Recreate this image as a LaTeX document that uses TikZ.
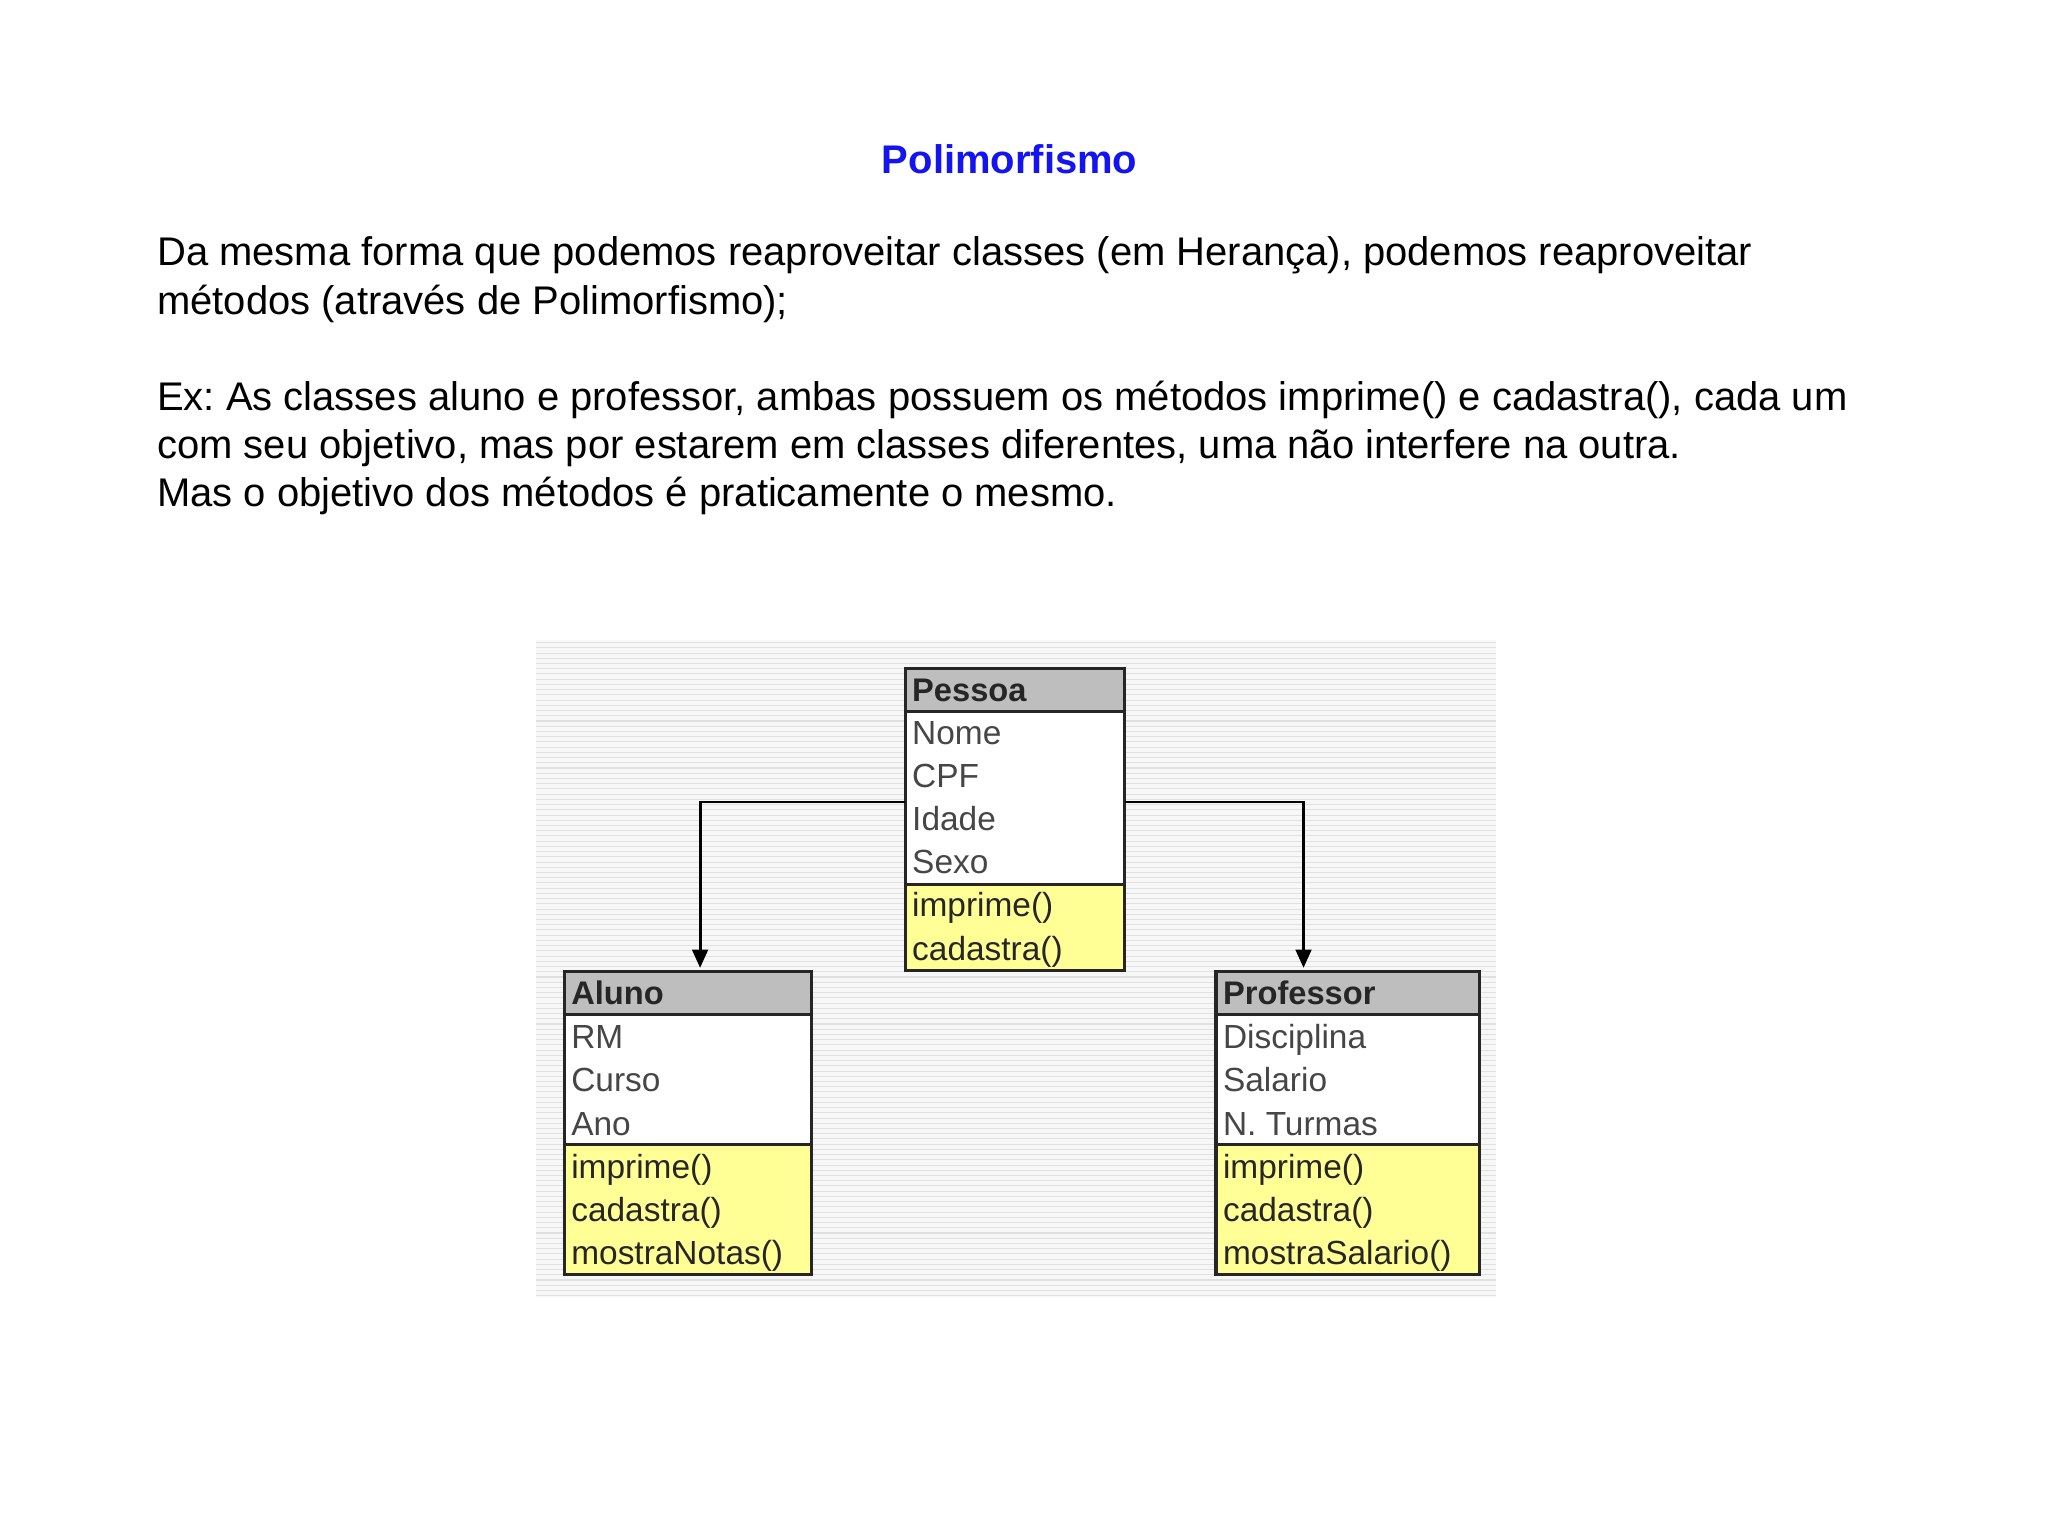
\documentclass[tikz,border=0pt]{standalone}
\usepackage{fontspec}
\setmainfont{Liberation Sans}
\frenchspacing
\usetikzlibrary{arrows.meta}
\definecolor{titleblue}{RGB}{20,20,240}
\definecolor{hdr}{RGB}{190,190,190}
\definecolor{meth}{RGB}{255,255,150}
\definecolor{attr}{RGB}{70,70,70}
\tikzset{
  body/.style={anchor=north west,inner sep=0pt,font=\fontsize{15.3}{18.5}\selectfont,align=left},
  row/.style={anchor=base west,inner sep=0pt,font=\fontsize{12.8}{14}\selectfont,text=attr},
  hrow/.style={anchor=base west,inner sep=0pt,font=\fontsize{12.5}{14}\selectfont\bfseries,text=black!85},
  frame/.style={draw=black!85,line width=1.2pt},
  conn/.style={line width=1.1pt,-{Triangle[length=7pt,width=6pt]}}
}
\begin{document}
\begin{tikzpicture}[x=0.5pt,y=-0.5pt]
\useasboundingbox (0,0) rectangle (1568,1176);
\fill[white] (0,0) rectangle (1568,1176);
\node[font=\fontsize{15.3}{18}\selectfont\bfseries,text=titleblue] (title) at (773,122) {Polimorfismo};
\node[body] (p1) at (120,181) {Da mesma forma que podemos reaproveitar classes (em Herança), podemos reaproveitar\\métodos (através de Polimorfismo);};
\node[body] (p2) at (120,291) {Ex: As classes aluno e professor, ambas possuem os métodos imprime() e cadastra(), cada um\\com seu objetivo, mas por estarem em classes diferentes, uma não interfere na outra.\\Mas o objetivo dos métodos é praticamente o mesmo.};
% striped background
\fill[black!3] (410,490) rectangle (1145,993);
\foreach \yy in {492,496,...,992} \draw[black!12,line width=0.4pt] (410,\yy) -- (1145,\yy);
% Pessoa
\fill[hdr] (693,512) rectangle (861,545);
\fill[white] (693,545) rectangle (861,677);
\fill[meth] (693,677) rectangle (861,743);
\draw[frame] (693,545) -- (861,545) (693,677) -- (861,677);
\draw[frame] (693,512) rectangle (861,743);
\node[hrow] (pessoa) at (698,537) {Pessoa};
\node[row] at (698,570) {Nome};
\node[row] at (698,603) {CPF};
\node[row] at (698,636) {Idade};
\node[row] at (698,669) {Sexo};
\node[row,text=black!85] at (698,702) {imprime()};
\node[row,text=black!85] at (698,735) {cadastra()};
\coordinate (pl) at (693,614);
\coordinate (pr) at (861,614);
% Aluno
\fill[hdr] (432,744) rectangle (621,777);
\fill[white] (432,777) rectangle (621,876);
\fill[meth] (432,876) rectangle (621,976);
\draw[frame] (432,777) -- (621,777) (432,876) -- (621,876);
\draw[frame] (432,744) rectangle (621,976);
\node[hrow] (aluno) at (437,769) {Aluno};
\node[row] at (437,803) {RM};
\node[row] at (437,836) {Curso};
\node[row] at (437,869) {Ano};
\node[row,text=black!85] at (437,902) {imprime()};
\node[row,text=black!85] at (437,935) {cadastra()};
\node[row,text=black!85] at (437,968) {mostraNotas()};
\coordinate (at) at (536,741);
% Professor
\fill[hdr] (931,744) rectangle (1133,777);
\fill[white] (931,777) rectangle (1133,876);
\fill[meth] (931,876) rectangle (1133,976);
\draw[frame] (931,777) -- (1133,777) (931,876) -- (1133,876);
\draw[frame] (931,744) rectangle (1133,976);
\node[hrow] (prof) at (936,769) {Professor};
\node[row] at (936,803) {Disciplina};
\node[row] at (936,836) {Salario};
\node[row] at (936,869) {N. Turmas};
\node[row,text=black!85] at (936,902) {imprime()};
\node[row,text=black!85] at (936,935) {cadastra()};
\node[row,text=black!85] at (936,968) {mostraSalario()};
\coordinate (ptop) at (998,741);
\draw[conn] (pl) -| (at);
\draw[conn] (pr) -| (ptop);
\end{tikzpicture}
\end{document}
